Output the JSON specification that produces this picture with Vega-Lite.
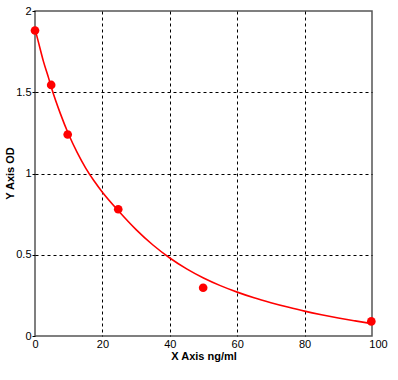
{
  "$schema": "https://vega.github.io/schema/vega-lite/v6.json",
  "width": 337,
  "height": 325,
  "autosize": "none",
  "padding": {"left": 35, "top": 11, "right": 26, "bottom": 44},
  "background": "white",
  "config": {
    "font": "Liberation Sans",
    "view": {"stroke": "#555555", "strokeWidth": 1.5},
    "axis": {
      "labelFont": "Liberation Sans",
      "labelFontSize": 11,
      "labelColor": "black",
      "titleFont": "Liberation Sans",
      "titleFontSize": 11,
      "titleFontWeight": "bold",
      "titleColor": "black",
      "domain": false,
      "tickColor": "black",
      "grid": true,
      "gridColor": "black",
      "gridDash": [3, 3],
      "gridWidth": 1
    }
  },
  "datasets": {
    "points": [
      {"x": 0, "y": 1.88},
      {"x": 4.8, "y": 1.545},
      {"x": 9.7, "y": 1.24},
      {"x": 24.7, "y": 0.78},
      {"x": 49.9, "y": 0.297},
      {"x": 99.8, "y": 0.09}
    ],
    "curve": [
      {"x": 0, "y": 1.89},
      {"x": 1, "y": 1.81},
      {"x": 2.5, "y": 1.69},
      {"x": 4, "y": 1.59},
      {"x": 5, "y": 1.52},
      {"x": 7.5, "y": 1.37},
      {"x": 10, "y": 1.24},
      {"x": 12.5, "y": 1.13},
      {"x": 15, "y": 1.035},
      {"x": 17.5, "y": 0.955},
      {"x": 20, "y": 0.885},
      {"x": 25, "y": 0.765},
      {"x": 30, "y": 0.655},
      {"x": 35, "y": 0.56},
      {"x": 40, "y": 0.48},
      {"x": 45, "y": 0.413},
      {"x": 50, "y": 0.357},
      {"x": 55, "y": 0.31},
      {"x": 60, "y": 0.27},
      {"x": 65, "y": 0.235},
      {"x": 70, "y": 0.205},
      {"x": 75, "y": 0.178},
      {"x": 80, "y": 0.153},
      {"x": 85, "y": 0.131},
      {"x": 90, "y": 0.111},
      {"x": 95, "y": 0.093},
      {"x": 100, "y": 0.076}
    ]
  },
  "encoding": {
    "x": {
      "field": "x",
      "type": "quantitative",
      "scale": {"domain": [0, 100], "nice": false, "zero": false},
      "axis": {
        "title": "X Axis ng/ml",
        "values": [0, 20, 40, 60, 80, 100],
        "format": "d",
        "tickSize": 0,
        "labelPadding": 2,
        "labelFlush": false,
        "labelOverlap": false,
        "titlePadding": 1,
        "labelOffset": {"condition": {"test": "datum.value == 100", "value": 6}, "value": 0},
        "gridOpacity": {"condition": {"test": "datum.value == 0 || datum.value == 100", "value": 0}, "value": 1}
      }
    },
    "y": {
      "field": "y",
      "type": "quantitative",
      "scale": {"domain": [0, 2], "nice": false},
      "axis": {
        "title": "Y Axis OD",
        "values": [0, 0.5, 1, 1.5, 2],
        "format": "~g",
        "tickSize": 3,
        "labelPadding": 1,
        "labelFlush": false,
        "labelOverlap": false,
        "titleX": -25,
        "titleY": 162,
        "titleBaseline": "middle",
        "gridOpacity": {"condition": {"test": "datum.value == 0 || datum.value == 2", "value": 0}, "value": 1}
      }
    }
  },
  "layer": [
    {
      "data": {"name": "curve"},
      "mark": {"type": "line", "color": "#ff0000", "strokeWidth": 1.6, "interpolate": "monotone", "clip": true}
    },
    {
      "data": {"name": "points"},
      "mark": {"type": "point", "filled": true, "color": "#ff0000", "size": 75, "opacity": 1, "clip": false}
    }
  ]
}
